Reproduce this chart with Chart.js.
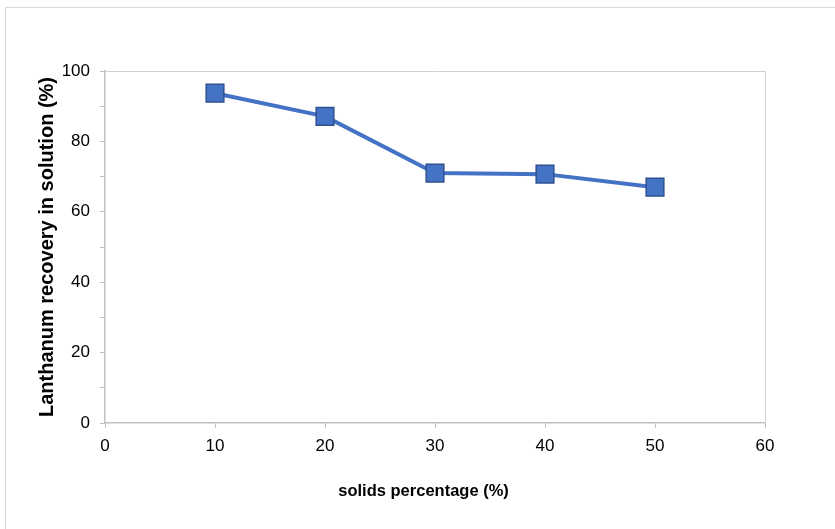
<!DOCTYPE html>
<html>
<head>
<meta charset="utf-8">
<script src="https://cdn.jsdelivr.net/npm/chart.js@4"></script>
<style>
  html, body { margin: 0; padding: 0; background: #fff; }
  #wrap { position: relative; width: 835px; height: 529px; overflow: hidden; }
  #frame { position: absolute; left: 5px; top: 7px; width: 840px; height: 540px; border: 1px solid #d9d9d9; }
  canvas { position: absolute; left: 0; top: 0; }
</style>
</head>
<body>
<div id="wrap">
  <div id="frame"></div>
  <canvas id="chart" width="835" height="529"></canvas>
</div>
<script>
const solids = [10, 20, 30, 40, 50]
const recovery = [93.7, 87.1, 71.0, 70.7, 67.0]

const xTicks = [0, 10, 20, 30, 40, 50, 60]
const yTicks = [0, 20, 40, 60, 80, 100]

const axisColor = '#bfbfbf'

// plot frame (top and right borders like the original)
const frame = {
    id: 'frame',
    beforeDatasetsDraw(chart) {
        const a = chart.chartArea
        const ctx = chart.ctx
        ctx.save()
        ctx.strokeStyle = '#d0d0d0'
        ctx.lineWidth = 1
        ctx.beginPath()
        ctx.moveTo(a.left, a.top + 0.5)
        ctx.lineTo(a.right + 0.5, a.top + 0.5)
        ctx.lineTo(a.right + 0.5, a.bottom)
        ctx.stroke()
        ctx.restore()
    }
}

new Chart(document.getElementById('chart'), {
    type: 'line',
    data: {
        datasets: [{
            data: solids.map((x, i) => ({ x: x, y: recovery[i] })),
            borderColor: '#4472c4',
            borderWidth: 4,
            backgroundColor: '#4472c4',
            pointStyle: 'rect',
            pointRadius: 12.5,
            pointHoverRadius: 12.5,
            pointBorderColor: '#2f528f',
            pointBorderWidth: 1.5,
            tension: 0
        }]
    },
    options: {
        responsive: false,
        animation: false,
        layout: { padding: { left: 30, top: 71, right: 70, bottom: 20 } },
        plugins: { legend: { display: false }, tooltip: { enabled: false } },
        scales: {
            x: {
                type: 'linear',
                min: 0, max: 60,
                afterFit: s => { s.height = 86 },
                afterBuildTicks: s => { s.ticks = xTicks.map(v => ({ value: v })) },
                grid: { drawOnChartArea: false, color: axisColor, tickLength: 5 },
                border: { color: axisColor, width: 1.5 },
                ticks: { color: '#000', padding: 8, font: { family: 'Liberation Sans, Arial', size: 17 } },
                title: {
                    display: true, text: 'solids percentage (%)     ', color: '#000',
                    padding: { top: 0, bottom: 8 },
                    font: { family: 'Liberation Sans, Arial', size: 16.5, weight: 'bold' }
                }
            },
            y: {
                min: 0, max: 100,
                afterFit: s => { s.width = 75 },
                ticks: {
                    stepSize: 10, color: '#000', padding: 10,
                    font: { family: 'Liberation Sans, Arial', size: 17 },
                    callback: v => yTicks.includes(v) ? v : ''
                },
                grid: { drawOnChartArea: false, color: axisColor, tickLength: 5 },
                border: { color: axisColor, width: 1.5 },
                title: {
                    display: true, text: 'Lanthanum recovery in solution (%)', color: '#000',
                    padding: { top: 5, bottom: 0 },
                    font: { family: 'Liberation Sans, Arial', size: 20, weight: 'bold' }
                }
            }
        }
    },
    plugins: [frame]
})
</script>
</body>
</html>
